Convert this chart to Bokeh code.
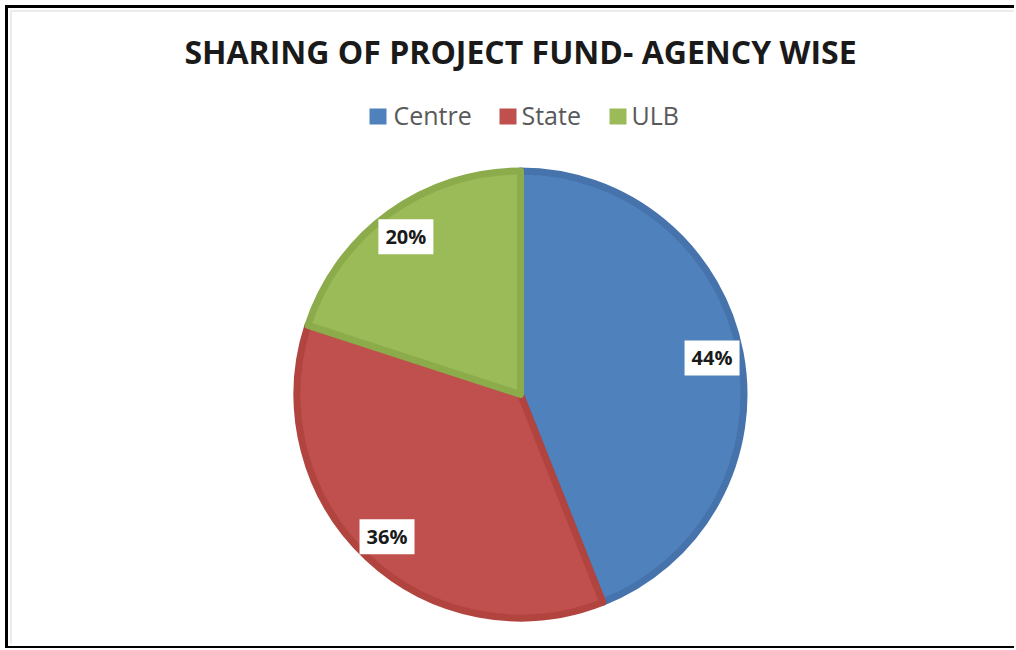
import math
from bokeh.plotting import figure
from bokeh.models import Range1d, ColumnDataSource
from bokeh.core.properties import value
from bokeh.embed import file_html
from bokeh.resources import INLINE

# ---- data ----
title_text = "SHARING OF PROJECT FUND- AGENCY WISE"
categories = ["Centre", "State", "ULB"]
shares = [44, 36, 20]
labels = ["44%", "36%", "20%"]
fill_colors = ["#4F81BD", "#C0504D", "#9BBB59"]
edge_colors = ["#4673AC", "#B2443F", "#8CAC4C"]

# ---- layout constants (pixel-like data units, y measured from bottom) ----
W, H = 1014, 648
cx, cy = 520, H - 394
r_outer = 227
edge_w = 7
label_r = 195

p = figure(width=W, height=H, output_backend="svg", toolbar_location=None,
           x_range=Range1d(0, W), y_range=Range1d(0, H),
           x_axis_type=None, y_axis_type=None, min_border=0)
p.grid.visible = False
p.outline_line_color = None
p.background_fill_color = "white"
p.border_fill_color = "white"

# chart frame drawn as filled bars: faint inner shadow (left/top), black border (left/top/bottom)
p.quad(left=[9.5, 9.5], right=[11.5, W], top=[H - 9.5, H - 9.5], bottom=[H - 643, H - 11.5],
       fill_color="#ececec", line_color=None)
p.quad(left=[4.5, 4.5, 4.5], right=[7.5, W, W], top=[H - 4.5, H - 4.5, H - 645.5],
       bottom=[H - 648.5, H - 7.5, H - 648.5], fill_color="black", line_color=None)

# wedges: start at top, clockwise
total = sum(shares)
starts, ends, mids = [], [], []
a = math.pi / 2
for s in shares:
    sweep = 2 * math.pi * s / total
    starts.append(a - sweep)
    ends.append(a)
    mids.append(a - sweep / 2)
    a -= sweep

src = ColumnDataSource(dict(cat=categories, start=starts, end=ends,
                            fill=fill_colors, edge=edge_colors,
                            x=[cx] * 3, y=[cy] * 3))
p.wedge(x="x", y="y", radius=r_outer - edge_w / 2, start_angle="start", end_angle="end",
        fill_color="fill", line_color="edge", line_width=edge_w, line_join="round",
        source=src)

# data labels
lx = [cx + label_r * math.cos(m) for m in mids]
ly = [cy + label_r * math.sin(m) for m in mids]
lsrc = ColumnDataSource(dict(x=lx, y=ly, t=labels))
p.rect(x="x", y="y", width=55, height=35, fill_color="white", line_color=None, source=lsrc)
p.text(x="x", y="y", text="t", text_align="center", text_baseline="middle",
       text_font=value("Open Sans"), text_font_style="bold", text_font_size="20px",
       text_color="#1a1a1a", source=lsrc)

# title
p.text(x=[520], y=[H - 51], text=[title_text], text_align="center", text_baseline="middle",
       text_font=value("Open Sans"), text_font_style="bold", text_font_size="32px",
       text_color="#1a1a1a")

# legend (horizontal)
leg_sq_x = [377.5, 507.5, 617.5]
leg_tx = [393, 521, 631]
p.rect(x=leg_sq_x, y=[H - 116] * 3, width=17, height=16, fill_color=fill_colors, line_color=None)
p.text(x=leg_tx, y=[H - 114] * 3, text=categories, text_align="left", text_baseline="middle",
       text_font=value("Open Sans"), text_font_size="25px", text_color="#595959")

open("out.html", "w").write(file_html(p, INLINE))
